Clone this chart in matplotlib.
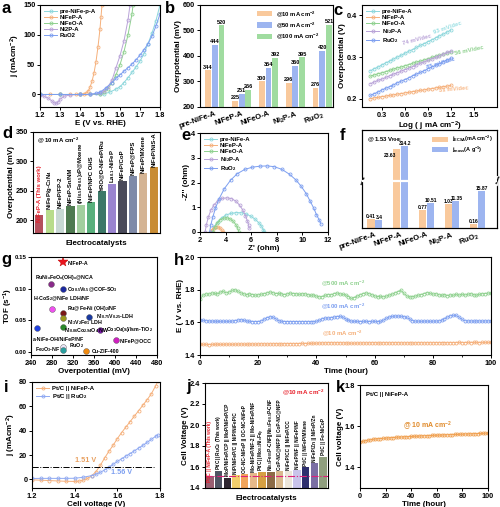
import numpy as np
import matplotlib
matplotlib.use('Agg')
import matplotlib.pyplot as plt
from matplotlib.ticker import MultipleLocator

plt.rcParams['font.family'] = ['Liberation Sans', 'DejaVu Sans']
plt.rcParams['font.weight'] = 'bold'
plt.rcParams['axes.labelweight'] = 'bold'
plt.rcParams['font.size'] = 5.8
plt.rcParams['xtick.labelsize'] = 5.3
plt.rcParams['ytick.labelsize'] = 5.3
plt.rcParams['mathtext.default'] = 'regular'
plt.rcParams['axes.linewidth'] = 0.8
plt.rcParams['xtick.major.size'] = 2.2
plt.rcParams['ytick.major.size'] = 2.2
plt.rcParams['xtick.minor.size'] = 1.3
plt.rcParams['xtick.major.width'] = 0.7
plt.rcParams['ytick.major.width'] = 0.7
plt.rcParams['xtick.major.pad'] = 1.2
plt.rcParams['ytick.major.pad'] = 1.2
plt.rcParams['axes.labelpad'] = 0.8

###################################  DATA  ###################################

# (a) LSV curves
a_pre_e = [1.20, 1.30, 1.40, 1.45, 1.50, 1.52, 1.55, 1.58, 1.60, 1.62, 1.64, 1.66, 1.68, 1.70, 1.72, 1.74, 1.76, 1.78, 1.80]
a_pre_j = [0, 0, 0, 0, 0, 1, 4, 9, 13, 20, 28, 37, 46, 56, 68, 85, 103, 124, 150]
a_p_e = [1.20, 1.25, 1.30, 1.35, 1.38, 1.40, 1.42, 1.43, 1.44, 1.45, 1.46, 1.47, 1.48, 1.49, 1.50, 1.505, 1.51]
a_p_j = [0, 0, 0, 0, 0, 0, 1, 2, 5, 12, 22, 36, 55, 80, 110, 130, 150]
a_o_e = [1.20, 1.30, 1.40, 1.45, 1.50, 1.52, 1.54, 1.56, 1.58, 1.60, 1.62, 1.64, 1.66, 1.665]
a_o_j = [0, 0, 0, 0, 0, 4, 10, 20, 33, 50, 72, 100, 135, 150]
a_2p_e = [1.20, 1.22, 1.24, 1.26, 1.27, 1.28, 1.29, 1.30, 1.32, 1.35, 1.40, 1.45, 1.50, 1.52, 1.54, 1.56, 1.58, 1.60, 1.62, 1.64, 1.65]
a_2p_j = [-1, -3, -6, -11, -14, -15, -13, -8, -3, -1, 0, 0, 2, 6, 13, 24, 45, 65, 90, 125, 150]
a_ru_e = [1.20, 1.30, 1.40, 1.45, 1.48, 1.50, 1.53, 1.56, 1.58, 1.60, 1.62, 1.64, 1.66, 1.68, 1.70, 1.72, 1.74, 1.76, 1.78, 1.80]
a_ru_j = [0, 0, 0, 0, 2, 4, 11, 20, 27, 33, 39, 45, 51, 58, 66, 75, 85, 98, 115, 135]

# (b) overpotentials (mV)
b_cat = ['pre-NiFe-A', 'NiFeP-A', 'NiFeO-A', 'Ni$_2$P-A', 'RuO$_2$']
b_10 = [344, 225, 300, 296, 276]
b_50 = [444, 251, 354, 360, 420]
b_100 = [520, 266, 392, 395, 521]

# (c) Tafel
c_log = [0.15, 0.20, 0.25, 0.30, 0.35, 0.40, 0.45, 0.50, 0.55, 0.60, 0.65,
         0.70, 0.75, 0.80, 0.85, 0.90, 0.95, 1.00, 1.05, 1.10, 1.15, 1.20]
c_pre = [0.267, 0.272, 0.276, 0.281, 0.286, 0.290, 0.295, 0.300, 0.304, 0.309, 0.314,
         0.318, 0.323, 0.328, 0.332, 0.337, 0.341, 0.346, 0.351, 0.355, 0.360, 0.365]
c_p = [0.200, 0.202, 0.203, 0.205, 0.206, 0.208, 0.209, 0.211, 0.212, 0.214, 0.215,
       0.217, 0.218, 0.220, 0.221, 0.223, 0.224, 0.226, 0.227, 0.229, 0.230, 0.232]
c_o = [0.254, 0.257, 0.260, 0.262, 0.265, 0.268, 0.271, 0.274, 0.276, 0.279, 0.282,
       0.285, 0.288, 0.290, 0.293, 0.296, 0.299, 0.302, 0.304, 0.307, 0.310, 0.313]
c_2p = [0.236, 0.240, 0.244, 0.247, 0.251, 0.255, 0.259, 0.262, 0.266, 0.270, 0.273,
        0.277, 0.281, 0.285, 0.288, 0.292, 0.296, 0.299, 0.303, 0.307, 0.311, 0.314]
c_ru = [0.208, 0.212, 0.216, 0.221, 0.225, 0.229, 0.233, 0.238, 0.242, 0.246, 0.250,
        0.255, 0.259, 0.263, 0.267, 0.272, 0.276, 0.280, 0.284, 0.289, 0.293, 0.297]
c_slopes = ['93 mV/dec', '31 mV/dec', '56 mV/dec', '74 mV/dec', '85 mV/dec']

# (d) literature comparison @10 mA cm-2
d_names = ['NiFeP-A (This work)', 'NiFeP/g-C$_3$N$_4$', 'NiFeP/FP-2', 'NiFeP-Sn/NM',
           '(Ni$_{0.5}$Fe$_{0.5}$)$_2$P@Mxene', 'NiFeP/NPC OHS', 'YRO@D-NiFeP/Ru',
           'La$_{0.1}$-NiFeP', 'NiFeP/CoP', 'NiFeP@FPS', 'NiFeP/MXene', 'NiFeP/NiS-A']
d_eta = [209, 217, 219, 224, 226, 230, 249, 262, 267, 275, 280, 290]

# (e) Nyquist
e_pre_x = [2.9, 3.1, 3.4, 3.7, 4.0, 4.4, 4.8, 5.2, 5.6, 6.0, 6.3, 6.6, 6.8, 6.95, 7.0]
e_pre_y = [0.0, 0.22, 0.42, 0.57, 0.68, 0.75, 0.78, 0.78, 0.73, 0.63, 0.52, 0.37, 0.24, 0.1, 0.0]
e_p_x = [2.85, 2.95, 3.1, 3.25, 3.4, 3.55, 3.68, 3.78]
e_p_y = [0.0, 0.1, 0.18, 0.22, 0.21, 0.16, 0.09, 0.02]
e_o_x = [3.0, 3.15, 3.35, 3.6, 3.85, 4.1, 4.35, 4.6, 4.8, 4.95, 5.02]
e_o_y = [0.0, 0.2, 0.36, 0.5, 0.56, 0.57, 0.53, 0.43, 0.3, 0.15, 0.02]
e_2p_x = [2.4, 2.5, 2.65, 2.85, 3.1, 3.4, 3.75, 4.1, 4.45, 4.8, 5.1, 5.35, 5.55, 5.7, 5.8, 5.85]
e_2p_y = [0.0, 0.3, 0.6, 0.88, 1.1, 1.27, 1.36, 1.38, 1.35, 1.25, 1.08, 0.88, 0.66, 0.45, 0.28, 0.15]
e_ru_x = [2.75, 2.85, 3.0, 3.2, 3.5, 3.9, 4.4, 4.9, 5.5, 6.1, 6.7, 7.25, 7.8, 8.4, 9.0, 9.5,
          9.9, 10.3, 10.6, 10.9, 11.1, 11.3, 11.45]
e_ru_y = [0.0, 0.3, 0.6, 0.95, 1.35, 1.75, 2.1, 2.35, 2.53, 2.62, 2.66, 2.67, 2.64, 2.53, 2.33, 2.1,
          1.85, 1.55, 1.25, 0.95, 0.7, 0.5, 0.32]

# (f) specific / mass activity @1.53 V
f_cat = ['pre-NiFe-A', 'NiFeP-A', 'NiFeO-A', 'Ni$_2$P-A', 'RuO$_2$']
f_ecsa = [0.41, 23.63, 0.77, 1.03, 0.16]
f_mass = [3.4, 314.2, 10.51, 11.35, 15.87]

# (g) TOF vs overpotential
g_names = ['NiFeP-A', 'RuNi$_x$FeO$_x$(OH)$_x$@NCA', 'Co$_{0.5}$V$_{0.5}$@COF-SO$_3$',
           'H-CoS$_2$@NiFe LDH/NF', 'Ru@Fe-Ni (OH)$_2$/NF', 'Ni$_3$V$_2$Fe$_1$ LDH',
           'Ni$_{0.06}$Co$_{2.94}$O$_4$ NW', 'Ni$_{0.75}$V$_{0.25}$-LDH', 'Co$_3$O$_4$(s)/Ism-TiO$_2$',
           'a-NiFe-OH/NiFeP/NF', 'NiFeP@OCC', 'RuO$_2$', 'Fe$_2$O$_3$-NF', 'Cu-ZIF-400']
g_eta = [300, 278, 300, 280, 300, 300, 300, 351, 372, 251, 402, 300, 300, 344]
g_tof = [0.142, 0.108, 0.099, 0.067, 0.062, 0.053, 0.040, 0.055, 0.035, 0.037, 0.018, 0.008, 0.003, 0.001]

# (h) stability, hourly
h_t = np.arange(0, 101)
h_500 = [1.740, 1.765, 1.775, 1.772, 1.780, 1.778, 1.774, 1.785, 1.790, 1.780,
         1.785, 1.795, 1.800, 1.790, 1.780, 1.775, 1.770, 1.775, 1.770, 1.766,
         1.768, 1.772, 1.775, 1.780, 1.786, 1.782, 1.776, 1.778, 1.774, 1.770,
         1.774, 1.779, 1.776, 1.775, 1.771, 1.774, 1.775, 1.770, 1.765, 1.768,
         1.760, 1.756, 1.758, 1.765, 1.770, 1.768, 1.775, 1.780, 1.774, 1.772,
         1.768, 1.758, 1.746, 1.752, 1.760, 1.768, 1.776, 1.780, 1.776, 1.770,
         1.762, 1.757, 1.760, 1.756, 1.760, 1.766, 1.772, 1.780, 1.788, 1.796,
         1.778, 1.762, 1.755, 1.758, 1.760, 1.766, 1.770, 1.776, 1.782, 1.778,
         1.772, 1.776, 1.770, 1.765, 1.770, 1.764, 1.768, 1.765, 1.771, 1.766,
         1.772, 1.767, 1.771, 1.776, 1.770, 1.766, 1.771, 1.775, 1.776, 1.779,
         1.777]
h_100 = [1.615, 1.612, 1.610, 1.608, 1.607, 1.607, 1.606, 1.606, 1.607, 1.606,
         1.606, 1.607, 1.610, 1.614, 1.616, 1.612, 1.608, 1.606, 1.605, 1.605,
         1.605, 1.608, 1.618, 1.628, 1.634, 1.632, 1.622, 1.610, 1.606, 1.605,
         1.605, 1.604, 1.605, 1.605, 1.604, 1.605, 1.605, 1.604, 1.605, 1.605,
         1.606, 1.612, 1.622, 1.626, 1.626, 1.628, 1.632, 1.635, 1.636, 1.632,
         1.622, 1.612, 1.607, 1.606, 1.606, 1.605, 1.606, 1.606, 1.605, 1.606,
         1.606, 1.605, 1.606, 1.612, 1.624, 1.632, 1.636, 1.638, 1.638, 1.637,
         1.635, 1.630, 1.620, 1.610, 1.607, 1.607, 1.606, 1.607, 1.607, 1.606,
         1.607, 1.607, 1.608, 1.612, 1.622, 1.632, 1.640, 1.643, 1.642, 1.632,
         1.618, 1.610, 1.608, 1.608, 1.607, 1.608, 1.608, 1.607, 1.608, 1.608,
         1.608]
h_10 = [1.466, 1.465, 1.465, 1.464, 1.465, 1.465, 1.466, 1.465, 1.465, 1.466,
        1.466, 1.465, 1.466, 1.466, 1.467, 1.466, 1.466, 1.467, 1.467, 1.466,
        1.467, 1.468, 1.468, 1.467, 1.468, 1.468, 1.469, 1.468, 1.468, 1.469,
        1.469, 1.470, 1.469, 1.470, 1.470, 1.471, 1.470, 1.471, 1.471, 1.472,
        1.472, 1.473, 1.474, 1.474, 1.475, 1.475, 1.474, 1.475, 1.475, 1.474,
        1.474, 1.473, 1.472, 1.472, 1.473, 1.473, 1.474, 1.474, 1.474, 1.475,
        1.475, 1.474, 1.474, 1.475, 1.475, 1.474, 1.475, 1.475, 1.475, 1.474,
        1.474, 1.474, 1.475, 1.474, 1.474, 1.475, 1.475, 1.474, 1.475, 1.475,
        1.475, 1.476, 1.475, 1.476, 1.476, 1.475, 1.476, 1.476, 1.476, 1.477,
        1.476, 1.476, 1.477, 1.476, 1.477, 1.477, 1.476, 1.477, 1.477, 1.477,
        1.477]

# (i) two-electrode LSV
i_np_v = [1.20, 1.24, 1.28, 1.32, 1.36, 1.40, 1.42, 1.44, 1.46, 1.48, 1.50, 1.52, 1.54, 1.56,
          1.58, 1.60, 1.62, 1.64, 1.66, 1.68, 1.70, 1.72, 1.74, 1.76, 1.78, 1.79]
i_np_j = [-0.3, -0.6, -0.9, -1.2, -1.5, -1.6, -1.4, -0.6, 0.8, 3.0, 6.5, 11.5, 17.5, 23.0,
          28.0, 33.5, 38.5, 43.0, 47.5, 52.0, 56.5, 61.0, 65.5, 70.5, 77.0, 80.5]
i_ru_v = [1.20, 1.24, 1.28, 1.32, 1.36, 1.40, 1.44, 1.48, 1.50, 1.52, 1.54, 1.56, 1.58, 1.60,
          1.62, 1.64, 1.66, 1.68, 1.70, 1.72, 1.74, 1.76, 1.78, 1.79]
i_ru_j = [0.8, 0.9, 0.9, 0.9, 0.9, 1.0, 1.8, 3.2, 4.3, 5.8, 7.8, 10.0, 12.4, 14.8,
          17.0, 19.2, 21.3, 23.5, 25.8, 28.0, 30.5, 33.0, 35.5, 36.5]

# (j) cell voltage comparison
j_names = ['Pt/C || NiFeP-A (This work)', 'Pt/C || RuO$_2$ (This work)', 'MoP/NiFeP/CP || MoP/NiFeP/CP',
           'NiP/NiFeP/C || NiP/NiFeP/C', 'OC-NC-NiFeP || OC-NC-NiFeP', 'Mo-NiFeP/NF-2 || Mo-NiFeP/NF',
           'Pt/C || Mo$_{0.1}$Ni$_x$Fe$_y$', 'Ni$_{0.5}$Fe$_{0.5}$P-CNF||Ni$_{0.5}$Fe$_{0.5}$P-CNF',
           'CoP-NC@NFP || CoP-NC@NFP', 'NiFeP/CC || NiFeP/CC', 'NiFeP/NF || NiFeP/NF',
           'Pt/C || NiFeP/MXene', 'NiFeP/Zn || NiFeP/Zn', 'Pt/C || Fe-NiCoP']
j_volt = [1.51, 1.56, 1.50, 1.52, 1.53, 1.54, 1.55, 1.55, 1.56, 1.56, 1.57, 1.60, 1.64, 1.70]

# (k) cell stability, every 2 h
k_t = np.arange(0, 101, 2)
k_v = [1.522, 1.526, 1.529, 1.532, 1.534, 1.536, 1.538, 1.539, 1.540, 1.541,
       1.542, 1.543, 1.544, 1.545, 1.546, 1.547, 1.547, 1.548, 1.549, 1.549,
       1.550, 1.551, 1.551, 1.552, 1.553, 1.553, 1.554, 1.554, 1.555, 1.556,
       1.556, 1.557, 1.557, 1.558, 1.558, 1.559, 1.559, 1.560, 1.560, 1.561,
       1.561, 1.562, 1.562, 1.563, 1.563, 1.564, 1.564, 1.565, 1.565, 1.566,
       1.566]

cPre = '#8dd7dc'
cP = '#f5b07b'
cO = '#8fd18f'
c2P = '#b9a3d8'
cRu = '#7d9ff0'

fig = plt.figure(figsize=(5, 5.07), dpi=100)
H = 507.

def box(l, t, r, b):
    return [l / 500., 1 - b / H, (r - l) / 500., (b - t) / H]

def small_legend(ax, **kw):
    leg = ax.legend(frameon=False, fontsize=4.3, handlelength=2.2, labelspacing=0.12,
                    borderaxespad=0.3, handletextpad=0.4, **kw)
    return leg

##############################  (a) LSV  ####################################
ax = fig.add_axes(box(40, 5, 160, 107))
for e, j, c, lab in [(a_pre_e, a_pre_j, cPre, 'pre-NiFe-p-A'), (a_p_e, a_p_j, cP, 'NiFeP-A'),
                     (a_o_e, a_o_j, cO, 'NiFeO-A'), (a_2p_e, a_2p_j, c2P, 'Ni2P-A'),
                     (a_ru_e, a_ru_j, cRu, 'RuO2')]:
    ax.plot(e, j, '-o', color=c, mfc='none', ms=2.2, mew=0.6, lw=0.7, label=lab)
ax.set_xlim(1.2, 1.8)
ax.set_ylim(-21, 150)
ax.set_xticks([1.2, 1.3, 1.4, 1.5, 1.6, 1.7, 1.8])
ax.set_yticks([0, 50, 100, 150])
ax.set_xlabel('E (V vs. RHE)')
ax.set_ylabel('j (mAcm$^{-2}$)')
small_legend(ax, loc='upper left')

##############################  (b) bars  ###################################
ax = fig.add_axes(box(200, 5, 333, 107))
xb = np.arange(len(b_cat))
for off, vals, c, lab in [(-0.25, b_10, '#f9c99c', '@10 mA cm$^{-2}$'),
                          (0.0, b_50, '#9db5f0', '@50 mA cm$^{-2}$'),
                          (0.25, b_100, '#a0dca0', '@100 mA cm$^{-2}$')]:
    ax.bar(xb + off, np.array(vals) - 200, 0.22, bottom=200, color=c, label=lab)
    for xi, v in zip(xb + off, vals):
        ax.text(xi, v + 3, str(v), ha='center', va='bottom', fontsize=4.0)
ax.set_xlim(-0.55, 4.4)
ax.set_ylim(200, 600)
ax.set_yticks([200, 300, 400, 500, 600])
ax.set_xticks(xb)
ax.set_xticklabels(b_cat, rotation=20, ha='right', rotation_mode='anchor', fontsize=5.5)
ax.tick_params(axis='x', length=0, pad=2)
ax.set_ylabel('Overpotential (mV)')
ax.legend(frameon=False, fontsize=4.2, loc='upper right', handlelength=2.5, handleheight=1.0,
          labelspacing=0.25, borderaxespad=0.3, bbox_to_anchor=(0.93, 1.0))

##############################  (c) Tafel  ##################################
ax = fig.add_axes(box(362, 5, 497, 107))
for y, c, lab in [(c_pre, cPre, 'pre-NiFe-A'), (c_p, cP, 'NiFeP-A'), (c_o, cO, 'NiFeO-A'),
                  (c_2p, c2P, 'Ni$_2$P-A'), (c_ru, cRu, 'RuO$_2$')]:
    ax.plot(c_log, y, '-o', color=c, mfc='none', ms=2.2, mew=0.6, lw=0.7, label=lab)
ax.text(1.16, 0.370, c_slopes[0], color='#9adfe3', fontsize=4.3, rotation=19, ha='center', va='center')
ax.text(1.24, 0.222, c_slopes[1], color='#f8b887', fontsize=4.3, rotation=5, ha='center', va='center')
ax.text(1.44, 0.316, c_slopes[2], color='#8fd18f', fontsize=4.3, rotation=12, ha='center', va='center')
ax.text(0.76, 0.341, c_slopes[3], color='#b9a3d8', fontsize=4.3, rotation=15, ha='center', va='center')
ax.text(1.06, 0.284, c_slopes[4], color='#7d9ff0', fontsize=4.3, rotation=17, ha='center', va='center')
ax.set_xlim(0.04, 1.8)
ax.set_ylim(0.18, 0.425)
ax.set_xticks([0.3, 0.6, 0.9, 1.2, 1.5])
ax.set_yticks([0.2, 0.3, 0.4])
ax.set_xlabel('Log ( j mA cm$^{-2}$)')
ax.set_ylabel('Overpotential (V)')
small_legend(ax, loc='upper left')

##############################  (d) literature  #############################
d_cols = ['#b4505c', '#b8dc8c', '#c8d8d4', '#4e7a50', '#a2cf9e', '#58b07c',
          '#3c7868', '#9a84d0', '#4a4a5a', '#7f8aa8', '#d4b494', '#c88c34']
ax = fig.add_axes(box(33, 132, 160, 233))
xd = np.arange(len(d_eta))
ax.bar(xd, np.array(d_eta) - 178, 0.78, bottom=178, color=d_cols)
for k in range(len(d_eta)):
    if k == 0:
        ax.text(xd[k], 197, d_names[k], rotation=90, ha='center', va='bottom', fontsize=4.3, color='#e8202a')
    else:
        ax.text(xd[k], d_eta[k] + 1, d_names[k], rotation=90, ha='center', va='bottom', fontsize=4.3)
ax.set_xlim(-0.6, 11.6)
ax.set_ylim(178, 350)
ax.set_yticks([200, 250, 300, 350])
ax.set_xticks([])
ax.set_xlabel('Electrocatalysts', labelpad=5)
ax.set_ylabel('Overpotential (mV)')
ax.text(0.03, 0.97, '@ 10 mA cm$^{-2}$', transform=ax.transAxes, fontsize=4.3, va='top')

##############################  (e) EIS  ####################################
ax = fig.add_axes(box(200, 133, 328, 232))
for x, y, c, lab in [(e_pre_x, e_pre_y, cPre, 'pre-NiFe-A'), (e_p_x, e_p_y, cP, 'NiFeP-A'),
                     (e_o_x, e_o_y, cO, 'NiFeO-A'), (e_2p_x, e_2p_y, c2P, 'Ni$_2$P-A'),
                     (e_ru_x, e_ru_y, cRu, 'RuO$_2$')]:
    ax.plot(x, y, '-o', color=c, mfc='none', ms=2.2, mew=0.6, lw=0.7, label=lab)
ax.set_xlim(2, 12)
ax.set_ylim(0, 4)
ax.set_xticks([2, 4, 6, 8, 10, 12])
ax.set_yticks([0, 1, 2, 3, 4])
ax.set_xlabel("Z' (ohm)")
ax.set_ylabel("-Z'' (ohm)")
small_legend(ax, loc='upper left')

##############################  (f) activity  ###############################
def fwd_ecsa(y):
    y = np.asarray(y, dtype=float)
    return np.where(y <= 2, y, 2 + (y - 2) * 0.066)

def inv_ecsa(y):
    y = np.asarray(y, dtype=float)
    return np.where(y <= 2, y, 2 + (y - 2) / 0.066)

def fwd_mass(y):
    y = np.asarray(y, dtype=float)
    return np.where(y <= 20, y, 20 + (y - 20) * 0.0507)

def inv_mass(y):
    y = np.asarray(y, dtype=float)
    return np.where(y <= 20, y, 20 + (y - 20) / 0.0507)

ax = fig.add_axes(box(362, 130, 497, 228))
ax2 = ax.twinx()
ax.set_yscale('function', functions=(fwd_ecsa, inv_ecsa))
ax2.set_yscale('function', functions=(fwd_mass, inv_mass))
xf = np.arange(len(f_cat))
b1 = ax.bar(xf - 0.15, f_ecsa, 0.28, color='#f9c99c', label='j$_{ECSA}$(mA cm$^{-2}$)')
b2 = ax2.bar(xf + 0.15, f_mass, 0.28, color='#9db5f0', label='j$_{mass}$(A g$^{-1}$)')
for k in range(len(f_cat)):
    if k == 1:
        # sits just under the bar top, as in the original
        ax.text(xf[k] - 0.15, 21, str(f_ecsa[k]), ha='right', va='top', fontsize=3.6, zorder=6)
    else:
        ax.text(xf[k] - 0.15, f_ecsa[k], str(f_ecsa[k]), ha='center', va='bottom', fontsize=3.6)
    ax2.text(xf[k] + 0.18, f_mass[k], str(f_mass[k]), ha='center', va='bottom', fontsize=3.6)
ax.set_ylim(0, 36.2)
ax2.set_ylim(0, 448)
ax.set_yticks([])
ax2.set_yticks([])
ax.set_xlim(-0.5, 4.75)
ax2.axhline(20, color='white', lw=1.6, zorder=5)
ax.text(0, 2, '/', transform=ax.get_yaxis_transform(), ha='center', va='center', fontsize=8,
        rotation=-10, bbox=dict(fc='white', ec='none', pad=0))
ax2.text(1, 20, '/', transform=ax2.get_yaxis_transform(), ha='center', va='center', fontsize=8,
         rotation=-10, bbox=dict(fc='white', ec='none', pad=0))
ax.set_xticks(xf)
ax.set_xticklabels(f_cat, rotation=20, ha='right', rotation_mode='anchor', fontsize=5.5)
ax.tick_params(axis='x', length=0, pad=2)
ax.text(0.04, 0.95, '@ 1.53 V$_{RHE}$', transform=ax.transAxes, fontsize=4.3, va='top')
ax2.legend(handles=[b1, b2], frameon=False, fontsize=4.0, loc='upper right', handlelength=2.8,
           handleheight=1.0, labelspacing=0.1, borderaxespad=0.3)

##############################  (g) TOF  ####################################
g_cols = ['#e8141e', '#8a2a8a', '#1c2aa0', '#f050f0', '#7a1818', '#9a9a20', '#2a8a2a',
          '#1a3aa0', '#7a1aaa', '#2040e0', '#d020c0', '#ece6f8', '#2aa0a0', '#f08a10']
g_lab = [(309, 0.139), (248, 0.117), (309, 0.0985), (244, 0.084), (309, 0.069), (309, 0.046),
         (302, 0.034), (364, 0.056), (383, 0.035), (244, 0.020), (409, 0.017), (312, 0.0105),
         (248, 0.004), (355, 0.001)]
ax = fig.add_axes(box(31, 257, 157, 355))
for k in range(len(g_eta)):
    if k == 0:
        ax.plot(g_eta[k], g_tof[k], '*', color=g_cols[k], ms=7, mec='#c00000', mew=0.3)
    else:
        ax.plot(g_eta[k], g_tof[k], 'o', color=g_cols[k], ms=4.2, mec='#555555', mew=0.3)
    ax.text(g_lab[k][0], g_lab[k][1], g_names[k], fontsize=3.8, ha='left', va='center')
ax.set_xlim(240, 480)
ax.set_ylim(-0.005, 0.15)
ax.set_xticks([240, 280, 320, 360, 400, 440, 480])
ax.set_yticks([0.0, 0.05, 0.10, 0.15])
ax.set_yticklabels(['0.00', '0.05', '0.10', '0.15'])
ax.tick_params(axis='y', labelsize=4.4)
ax.set_xlabel('Overpotential (mV)')
ax.set_ylabel('TOF (s$^{-1}$)')
ax.yaxis.set_label_coords(-0.125, 0.5)

##############################  (h) stability  ##############################
ax = fig.add_axes(box(200, 257, 491, 355))
ax.plot(h_t, h_500, '-o', color=cO, mfc='none', ms=2.2, mew=0.6, lw=0.6)
ax.plot(h_t, h_100, '-o', color=cRu, mfc='none', ms=2.2, mew=0.6, lw=0.6)
ax.plot(h_t, h_10, '-o', color=cP, mfc='none', ms=2.2, mew=0.6, lw=0.6)
ax.text(49, 1.828, '@500 mA cm$^{-2}$', color=cO, fontsize=4.3, ha='center')
ax.text(49, 1.686, '@100 mA cm$^{-2}$', color=cRu, fontsize=4.3, ha='center')
ax.text(49, 1.522, '@10 mA cm$^{-2}$', color=cP, fontsize=4.3, ha='center')
ax.set_xlim(0, 100)
ax.set_ylim(1.4, 2.0)
ax.set_xticks([0, 20, 40, 60, 80, 100])
ax.xaxis.set_minor_locator(MultipleLocator(10))
ax.set_yticks([1.4, 1.6, 1.8, 2.0])
ax.set_xlabel('Time (hour)')
ax.set_ylabel('E ( V vs. RHE)')

##############################  (i) overall LSV  ############################
ax = fig.add_axes(box(32, 382, 160, 488))
ax.plot(i_np_v, i_np_j, '-o', color='#f5b07b', mfc='none', ms=2.2, mew=0.6, lw=0.7, label='Pt/C || NiFeP-A')
ax.plot(i_ru_v, i_ru_j, '-o', color='#8fa9f2', mfc='none', ms=2.2, mew=0.6, lw=0.7, label='Pt/C || RuO$_2$')
ax.plot([1.2, 1.77], [10, 10], color='black', ls='-.', lw=0.7)
ax.text(1.40, 14.5, '1.51 V', color='#e8a060', fontsize=5.2)
ax.text(1.57, 4.5, '1.56 V', color='#7d9ff0', fontsize=5.2)
ax.set_xlim(1.2, 1.8)
ax.set_ylim(-7, 80)
ax.set_xticks([1.2, 1.4, 1.6, 1.8])
ax.set_yticks([0, 20, 40, 60, 80])
ax.set_xlabel('Cell voltage (V)')
ax.set_ylabel('j (mAcm$^{-2}$)')
small_legend(ax, loc='upper left')

##############################  (j) cell voltages  ##########################
j_cols = ['#9a5f72', '#4f5464', '#2e2630', '#f3cf6c', '#f2a55c', '#e6b98a', '#d6a042',
          '#8c6b45', '#d8b98e', '#ece6da', '#c9c3ea', '#2e2f6e', '#7b6fa3', '#8f9e7e']
ax = fig.add_axes(box(205, 383, 328, 488))
xj = np.arange(len(j_volt))
ax.bar(xj, np.array(j_volt) - 1.4, 0.85, bottom=1.4, color=j_cols)
ax.axhline(1.51, color='#e0207a', ls='-.', lw=0.8)
for k in range(len(j_volt)):
    if k == 0:
        ax.text(xj[k], 1.455, j_names[k], rotation=90, ha='center', va='bottom', fontsize=3.4, color='#e8202a')
    else:
        ax.text(xj[k], j_volt[k] + 0.01, j_names[k], rotation=90, ha='center', va='bottom', fontsize=3.4)
ax.text(0.97, 0.96, '@10 mA cm$^{-2}$', transform=ax.transAxes, fontsize=4.5, color='#e8202a',
        ha='right', va='top')
ax.set_xlim(-0.55, 13.55)
ax.set_ylim(1.4, 2.4)
ax.set_yticks([1.4, 1.6, 1.8, 2.0, 2.2, 2.4])
ax.set_xticks([])
ax.set_xlabel('Electrocatalysts', labelpad=5)
ax.set_ylabel('Cell Voltage (V)')

##############################  (k) cell stability  #########################
ax = fig.add_axes(box(360, 385, 488, 488))
ax.plot(k_t, k_v, '-o', color='#f0a050', mfc='none', ms=2.2, mew=0.6, lw=0.7)
ax.text(53, 1.6, '@ 10 mA cm$^{-2}$', color='#e08a2a', fontsize=5.0, ha='center', va='center')
ax.text(0.05, 0.93, 'Pt/C || NiFeP-A', transform=ax.transAxes, fontsize=4.3, va='top')
ax.set_xlim(0, 100)
ax.set_ylim(1.3, 1.8)
ax.set_xticks([0, 20, 40, 60, 80, 100])
ax.set_yticks([1.4, 1.6, 1.8])
ax.set_xlabel('Time (hour)')
ax.set_ylabel('Cell voltage (V)')

##############################  panel letters  ##############################
for lab, x, y in [('a', 2, 13), ('b', 165, 13), ('c', 333, 15), ('d', 2, 138), ('e', 181, 140),
                  ('f', 340, 140), ('g', 1, 264), ('h', 174, 265), ('i', 4, 392), ('j', 186, 391),
                  ('k', 336, 392)]:
    fig.text(x / 500., 1 - y / H, lab, fontsize=12, fontweight='bold', va='baseline')

plt.savefig('out.png', dpi=100)
